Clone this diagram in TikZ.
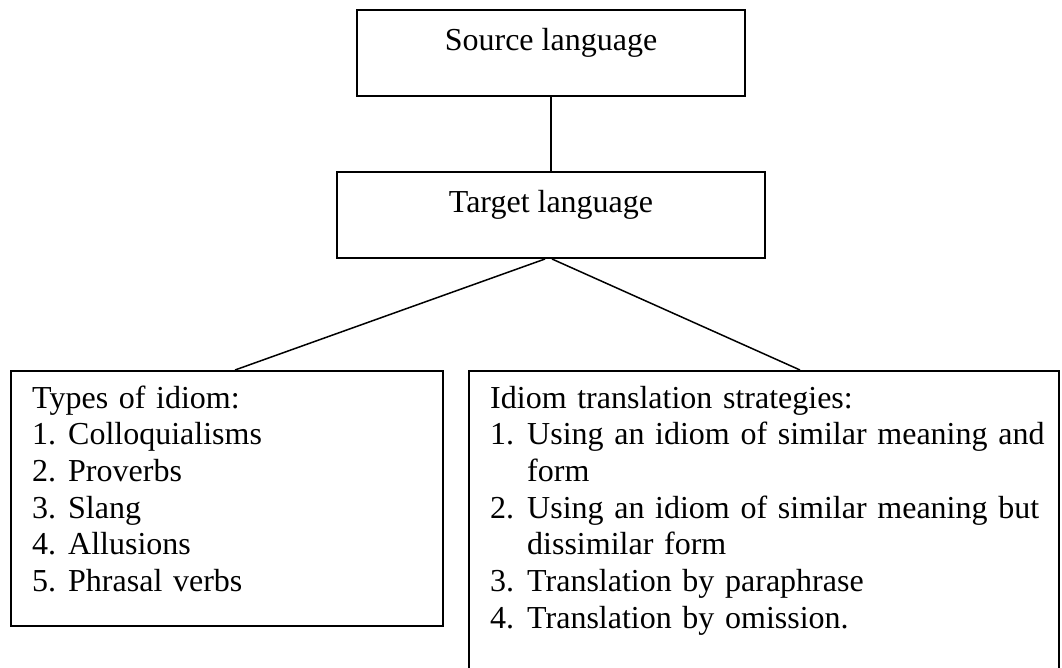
\documentclass[tikz,border=0pt]{standalone}
\usepackage{fontspec}
\setmainfont{Liberation Serif}
\begin{document}
\begin{tikzpicture}[x=1pt,y=-1pt,
  txt/.style={font=\fontsize{32}{36.7}\selectfont},
  topbox/.style={txt, draw, line width=2pt, inner sep=0pt, anchor=north,
    text height=41pt, text depth=45pt},
  bigbox/.style={draw, line width=2pt, inner sep=0pt, anchor=north west},
  list/.style={txt, inner sep=0pt, anchor=base west, align=left},
  link/.style={line width=1.5pt}]
\clip (0,0) rectangle (1062,668);
\node[topbox, minimum width=388pt] (src) at (551,9) {Source language};
\node[topbox, minimum width=428pt] (tgt) at (551,171) {Target language};
\node[bigbox, minimum width=432pt, minimum height=255pt] (types) at (10,370) {};
\node[bigbox, minimum width=590pt, minimum height=330pt] (strat) at (468,370) {};
\node[list, text width=400pt] (typestxt) at (32,408) {Types of idiom:\\
\makebox[36pt][l]{1.}Colloquialisms\\
\makebox[36pt][l]{2.}Proverbs\\
\makebox[36pt][l]{3.}Slang\\
\makebox[36pt][l]{4.}Allusions\\
\makebox[36pt][l]{5.}Phrasal verbs};
\node[list, text width=570pt] (strattxt) at (490,408) {Idiom translation strategies:\\
\makebox[37pt][l]{1.}\makebox[523pt][s]{Using an idiom of similar meaning and}\\
\hspace*{37pt}form\\
\makebox[37pt][l]{2.}\makebox[523pt][s]{Using an idiom of similar meaning but}\\
\hspace*{37pt}dissimilar form\\
\makebox[37pt][l]{3.}Translation by paraphrase\\
\makebox[37pt][l]{4.}Translation by omission.};
\coordinate (lend) at (235,370);
\coordinate (rend) at (800,370);
\draw[link] (src.south) -- (tgt.north);
\draw[link] ([xshift=-6pt]tgt.south) -- (lend);
\draw[link] ([xshift=1pt]tgt.south) -- (rend);
\end{tikzpicture}
\end{document}
